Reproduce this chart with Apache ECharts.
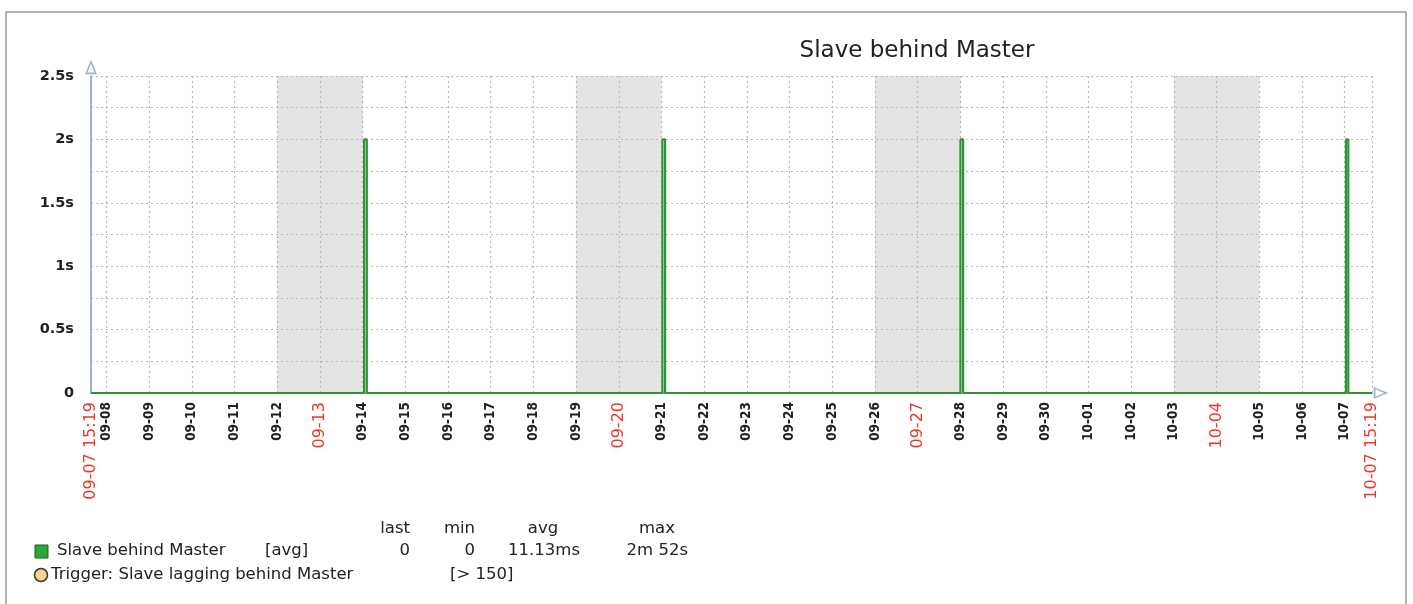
<!DOCTYPE html>
<html>
<head>
<meta charset="utf-8">
<script src="https://cdn.jsdelivr.net/npm/echarts@6/dist/echarts.min.js"></script>
<style>
html,body{margin:0;padding:0;background:#fff;}
#chart{width:1413px;height:604px;}
</style>
</head>
<body>
<div id="chart"></div>
<script>
// ---- data ----
const YEAR = 2014;
const rangeStart = '09-07 15:19';
const rangeEnd = '10-07 15:19';
const dayTicks = ['09-08','09-09','09-10','09-11','09-12','09-13','09-14','09-15','09-16','09-17','09-18','09-19','09-20','09-21','09-22','09-23','09-24','09-25','09-26','09-27','09-28','09-29','09-30','10-01','10-02','10-03','10-04','10-05','10-06','10-07'];
const redTicks = ['09-13','09-20','09-27','10-04'];
const weekendBands = [['09-12','09-14'],['09-19','09-21'],['09-26','09-28'],['10-03','10-05']];
const yTicks = [0, 0.5, 1, 1.5, 2, 2.5];
const lineTimes = ['09-07 15:19',
  '09-14 00:50','09-14 00:50','09-14 02:20','09-14 02:20',
  '09-21 00:30','09-21 00:30','09-21 02:00','09-21 02:00',
  '09-28 00:00','09-28 00:00','09-28 01:30','09-28 01:30',
  '10-07 00:40','10-07 00:40','10-07 02:00','10-07 02:00',
  '10-07 15:19'];
const lineValues = [0, 0,2,2,0, 0,2,2,0, 0,2,2,0, 0,2,2,0, 0];
const seriesName = 'Slave behind Master';
const legendHeaders = ['last','min','avg','max'];
const legendValues = ['0','0','11.13ms','2m 52s'];
const triggerText = 'Trigger: Slave lagging behind Master';
const triggerCond = '[> 150]';

// ---- helpers ----
function ts(s){
  const [md, hm] = s.split(' ');
  const [mo, d] = md.split('-').map(Number);
  let h = 0, mi = 0;
  if (hm) { [h, mi] = hm.split(':').map(Number); }
  return Date.UTC(YEAR, mo - 1, d, h, mi);
}
function pad(n){ return (n < 10 ? '0' : '') + n; }
const tMin = ts(rangeStart), tMax = ts(rangeEnd);
const tickVals = [tMin].concat(dayTicks.map(ts)).concat([tMax]);
const lineData = lineTimes.map((t, i) => [ts(t), lineValues[i]]);
const FONT = 'DejaVu Sans';
const LF = '16.5px "DejaVu Sans"';

const chart = echarts.init(document.getElementById('chart'), null, {renderer: 'canvas'});
const arrowPath = 'path://M5,0 L10,12 L0,12 Z M5,3.2 L1.9,10.6 L8.1,10.6 Z';
const axisLineStyle = {color: '#9fb2c6', width: 2};

const option = {
  animation: false,
  backgroundColor: '#ffffff',
  title: {
    text: seriesName,
    left: 912, top: 35, textAlign: 'center',
    textStyle: {fontFamily: FONT, fontSize: 23, fontWeight: 'normal', color: '#222'}
  },
  grid: {left: 91, right: 41, top: 76, bottom: 211, containLabel: false},
  xAxis: {
    type: 'value', min: tMin, max: tMax, z: 3,
    axisLine: {show: true, lineStyle: axisLineStyle, symbol: ['none', arrowPath], symbolSize: [12, 16], symbolOffset: [0, 9]},
    axisTick: {show: false, customValues: tickVals},
    axisLabel: {
      customValues: tickVals, rotate: 90, margin: 9, showMinLabel: true, showMaxLabel: true, hideOverlap: false,
      formatter: function(v){
        const d = new Date(v);
        const md = pad(d.getUTCMonth() + 1) + '-' + pad(d.getUTCDate());
        if (v === tMin || v === tMax) return '{r|' + md + ' ' + pad(d.getUTCHours()) + ':' + pad(d.getUTCMinutes()) + '}';
        if (redTicks.indexOf(md) >= 0) return '{r|' + md + '}';
        return '{b|' + md + '}';
      },
      rich: {
        r: {fontFamily: FONT, fontSize: 16, color: '#e8382a'},
        b: {fontFamily: '"DejaVu Sans Condensed", "DejaVu Sans"', fontSize: 13.5, fontWeight: 'bold', color: '#222'}
      }
    },
    splitLine: {show: true, lineStyle: {color: '#b8b8b8', type: [2, 3], width: 1.2}}
  },
  yAxis: {
    type: 'value', min: 0, max: 2.5, interval: 0.25, z: 3,
    axisLine: {show: true, lineStyle: axisLineStyle, symbol: ['none', arrowPath], symbolSize: [12, 16], symbolOffset: [0, 9]},
    axisTick: {show: false},
    axisLabel: {
      margin: 17, fontFamily: FONT, fontSize: 14.5, fontWeight: 'bold', color: '#222',
      formatter: function(v){
        const hit = yTicks.find(t => Math.abs(t - v) < 1e-9);
        if (hit === undefined) return '';
        return hit === 0 ? '0' : hit + 's';
      }
    },
    splitLine: {show: true, lineStyle: {color: '#b8b8b8', type: [2, 3], width: 1.2}}
  },
  series: [
    {
      name: 'bands', type: 'line', z: 1, data: [], silent: true,
      markArea: {
        silent: true,
        itemStyle: {color: '#e4e4e4', opacity: 1},
        data: weekendBands.map(b => [{xAxis: ts(b[0])}, {xAxis: ts(b[1])}])
      }
    },
    {
      name: seriesName, type: 'line', z: 5, data: lineData,
      showSymbol: false, symbol: 'none',
      lineStyle: {color: '#2e9435', width: 2.2},
      silent: true
    }
  ],
  graphic: [
    {type: 'rect', shape: {x: 6, y: 12, width: 1400, height: 620}, style: {fill: 'none', stroke: '#999', lineWidth: 1.5}, silent: true},
    {type: 'text', x: 410, y: 529, style: {text: legendHeaders[0], font: LF, fill: '#222', textAlign: 'right', textVerticalAlign: 'middle'}},
    {type: 'text', x: 475, y: 529, style: {text: legendHeaders[1], font: LF, fill: '#222', textAlign: 'right', textVerticalAlign: 'middle'}},
    {type: 'text', x: 543, y: 529, style: {text: legendHeaders[2], font: LF, fill: '#222', textAlign: 'center', textVerticalAlign: 'middle'}},
    {type: 'text', x: 657, y: 529, style: {text: legendHeaders[3], font: LF, fill: '#222', textAlign: 'center', textVerticalAlign: 'middle'}},
    {type: 'rect', shape: {x: 35, y: 545, width: 13, height: 13}, style: {fill: '#2ea63a', stroke: '#1a5e20', lineWidth: 1}},
    {type: 'text', x: 57, y: 551, style: {text: seriesName, font: LF, fill: '#222', textVerticalAlign: 'middle'}},
    {type: 'text', x: 265, y: 551, style: {text: '[avg]', font: LF, fill: '#222', textVerticalAlign: 'middle'}},
    {type: 'text', x: 410, y: 551, style: {text: legendValues[0], font: LF, fill: '#222', textAlign: 'right', textVerticalAlign: 'middle'}},
    {type: 'text', x: 475, y: 551, style: {text: legendValues[1], font: LF, fill: '#222', textAlign: 'right', textVerticalAlign: 'middle'}},
    {type: 'text', x: 580, y: 551, style: {text: legendValues[2], font: LF, fill: '#222', textAlign: 'right', textVerticalAlign: 'middle'}},
    {type: 'text', x: 688, y: 551, style: {text: legendValues[3], font: LF, fill: '#222', textAlign: 'right', textVerticalAlign: 'middle'}},
    {type: 'circle', shape: {cx: 41, cy: 575, r: 6.5}, style: {fill: '#f6d48a', stroke: '#333', lineWidth: 1.5}},
    {type: 'text', x: 51, y: 575, style: {text: triggerText, font: LF, fill: '#222', textVerticalAlign: 'middle'}},
    {type: 'text', x: 450, y: 575, style: {text: triggerCond, font: LF, fill: '#222', textVerticalAlign: 'middle'}}
  ]
};
chart.setOption(option);
</script>
</body>
</html>
